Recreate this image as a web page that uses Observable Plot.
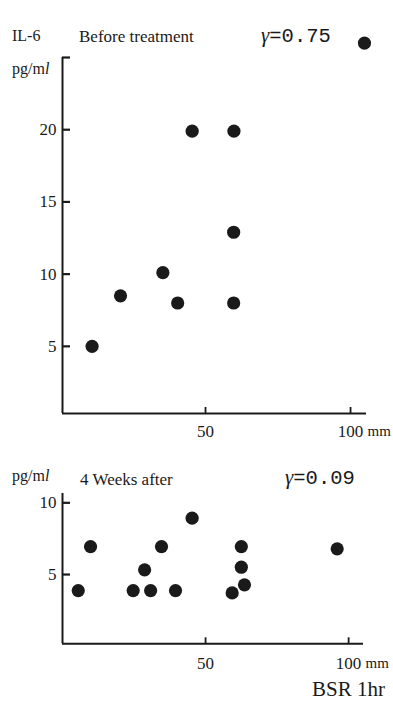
<!DOCTYPE html>
<html>
<head>
<meta charset="utf-8">
<script src="https://cdn.jsdelivr.net/npm/d3@7"></script>
<script src="https://cdn.jsdelivr.net/npm/@observablehq/plot@0.6"></script>
<style>
  html, body { margin: 0; padding: 0; background: #fff; }
  #wrap { position: relative; width: 393px; height: 702px; overflow: hidden; }
  #wrap svg { display: block; }
  #overlay { position: absolute; left: 0; top: 0; pointer-events: none; }
</style>
</head>
<body>
<div id="wrap"></div>
<script>
// ---- data: Before treatment (BSR 1hr in mm vs IL-6 pg/ml)
const beforeBSR = [10.9, 20.7, 35.3, 40.4, 45.4, 59.8, 59.7, 59.7, 104.8];
const beforeIL6 = [5.0, 8.5, 10.1, 8.0, 19.9, 19.9, 12.9, 8.0, 26.0];
// ---- data: 4 weeks after
const afterBSR = [5.5, 9.8, 24.7, 28.7, 30.8, 34.6, 39.5, 45.3, 59.3, 62.5, 62.5, 63.6, 96.0];
const afterIL6 = [3.88, 6.95, 3.88, 5.33, 3.88, 6.95, 3.88, 8.93, 3.72, 6.95, 5.51, 4.28, 6.79];
// ---- ticks
const xTicks = [50, 100];
const topYTicks = [5, 10, 15, 20, 25];
const topYLabels = [5, 10, 15, 20];
const botYTicks = [5, 10];
const botYLabels = [5, 10];

const ink = "#1a1a1a";
const W = 393;

function panel({bsr, il6, xDomain, yDomain, yTicks, yLabels, height, mt, mb, ml, mr, xPad}) {
  const pts = bsr.map((x, i) => ({x, y: il6[i]}));
  const pxX = (W - ml - mr) / (xDomain[1] - xDomain[0]);
  const pxY = (height - mt - mb) / (yDomain[1] - yDomain[0]);
  const tickLenX = 8 / pxX;   // horizontal tick length in x units
  const tickLenY = 6 / pxY;   // vertical tick length in y units
  return Plot.plot({
    width: W, height,
    marginTop: mt, marginBottom: mb, marginLeft: ml, marginRight: mr,
    style: {fontFamily: "'Liberation Serif', 'Times New Roman', serif", fontSize: "16px", color: ink, background: "#fff"},
    x: {domain: xDomain, axis: null},
    y: {domain: yDomain, axis: null},
    marks: [
      // axis lines
      Plot.ruleX([xDomain[0]], {y1: yDomain[0], y2: yDomain[1], stroke: ink, strokeWidth: 2}),
      Plot.ruleY([yDomain[0]], {x1: xDomain[0], x2: xDomain[1], stroke: ink, strokeWidth: 2}),
      // inward ticks
      Plot.ruleY(yTicks, {y: d => d, x1: xDomain[0], x2: xDomain[0] + tickLenX, stroke: ink, strokeWidth: 2.2}),
      Plot.ruleX(xTicks, {x: d => d, y1: yDomain[0], y2: yDomain[0] + tickLenY, stroke: ink, strokeWidth: 1.8}),
      // tick labels
      Plot.axisY(yLabels, {tickSize: 0, tickPadding: 6, fontSize: 17, fill: ink, label: null}),
      Plot.axisX(xTicks, {tickSize: 0, tickPadding: xPad, fontSize: 17, fill: ink, label: null}),
      Plot.text(["mm"], {x: 100, y: yDomain[0], text: d => d, dx: 17, dy: xPad + 1, lineAnchor: "top", textAnchor: "start", fontSize: 15, fill: ink}),
      // points
      Plot.dot(pts, {x: "x", y: "y", r: 6.6, fill: ink, stroke: "none"})
    ]
  });
}

const wrap = document.getElementById("wrap");
wrap.appendChild(panel({
  bsr: beforeBSR, il6: beforeIL6,
  xDomain: [0.7, 105.5], yDomain: [0.35, 25],
  yTicks: topYTicks, yLabels: topYLabels,
  height: 450, mt: 57, mb: 37, ml: 62, mr: 27, xPad: 11
}));
wrap.appendChild(panel({
  bsr: afterBSR, il6: afterIL6,
  xDomain: [0, 105.2], yDomain: [0.17, 10.65],
  yTicks: botYTicks, yLabels: botYLabels,
  height: 252, mt: 43, mb: 58.7, ml: 62, mr: 30, xPad: 13
}));

// ---- annotations (titles, units, correlation coefficients)
const ov = d3.select(wrap).append("svg")
  .attr("id", "overlay").attr("width", W).attr("height", 702)
  .style("font-family", "'Liberation Serif', 'Times New Roman', serif")
  .attr("fill", ink);

function unit(x, y) {
  const t = ov.append("text").attr("x", x).attr("y", y).attr("font-size", 16);
  t.append("tspan").text("pg/m");
  t.append("tspan").attr("font-style", "italic").text("l");
}
function gamma(x, y, val) {
  const t = ov.append("text").attr("x", x).attr("y", y).attr("font-size", 21);
  t.append("tspan").attr("font-style", "italic").text("γ");
  t.append("tspan").attr("font-family", "'Liberation Mono', monospace").attr("font-size", 20.5).text("=" + val);
}

ov.append("text").attr("x", 12).attr("y", 41).attr("font-size", 16).text("IL-6");
unit(12, 74);
ov.append("text").attr("x", 79).attr("y", 42).attr("font-size", 17).text("Before treatment");
gamma(261, 42, "0.75");

unit(12, 481);
ov.append("text").attr("x", 80).attr("y", 485).attr("font-size", 17).text("4 Weeks after");
gamma(285, 484, "0.09");

ov.append("text").attr("x", 312).attr("y", 696).attr("font-size", 21).text("BSR 1hr");
</script>
</body>
</html>
